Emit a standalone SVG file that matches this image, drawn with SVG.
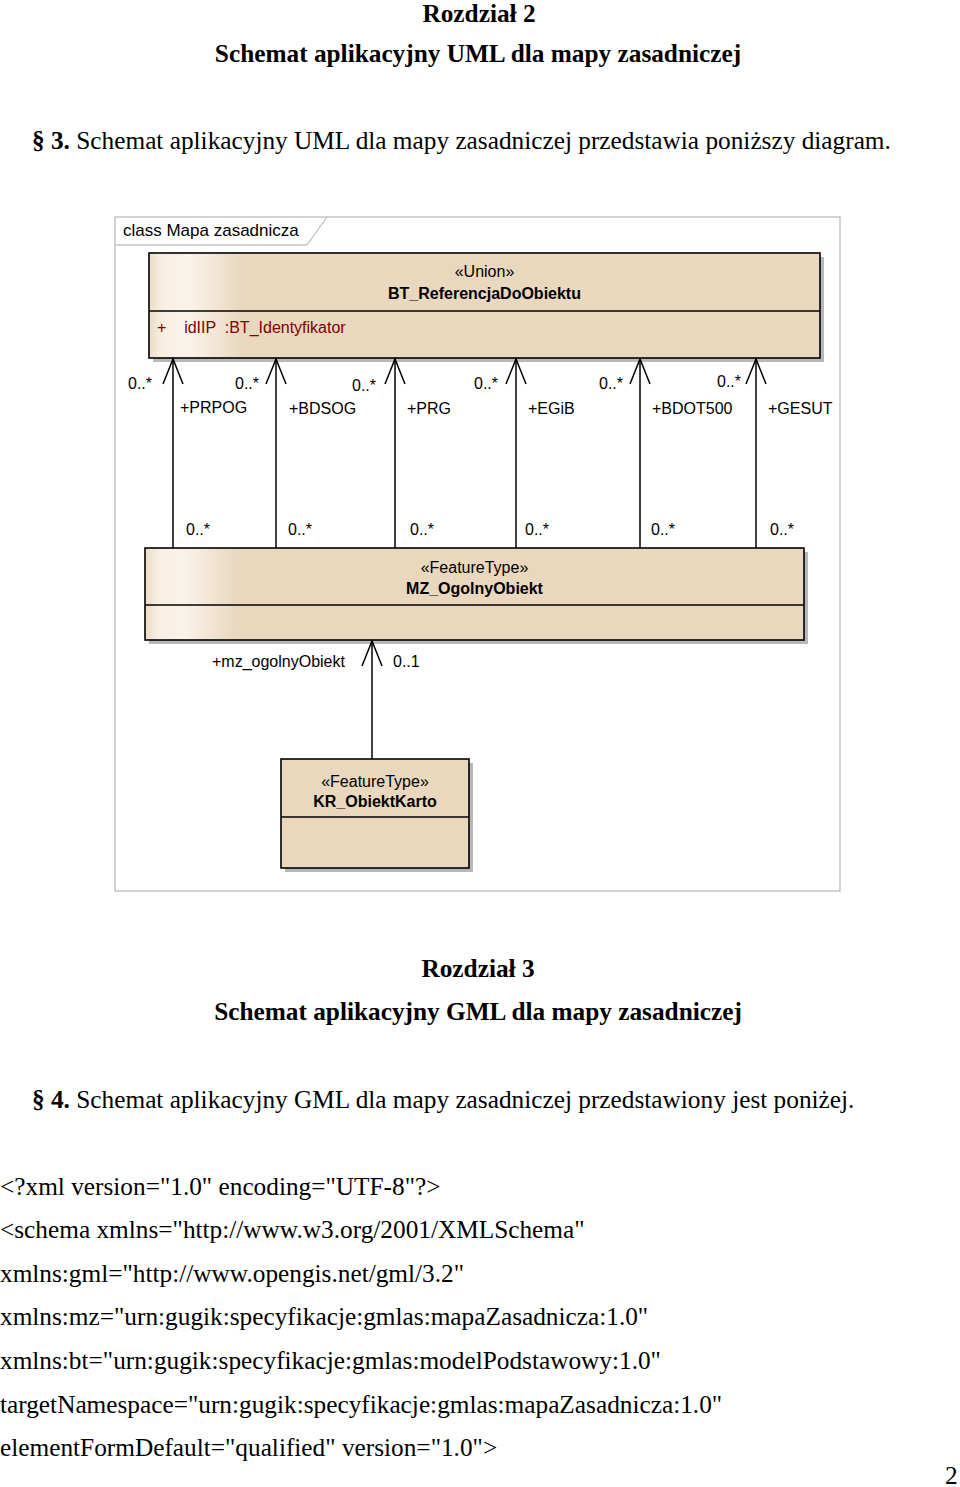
<svg xmlns="http://www.w3.org/2000/svg" width="960" height="1487" viewBox="0 0 960 1487">
<style>
.body{font-family:"Liberation Serif","Times New Roman",serif;font-size:25.3px;fill:#000}
.b{font-weight:bold}
.uml{font-family:"Liberation Sans",Arial,sans-serif;font-size:16px;fill:#000}
.ub{font-weight:bold}
.attr{fill:#7F0000}
.box{stroke:#000;stroke-width:1.6}
.shadow{fill:#9a9a9a;opacity:0.7}
.conn{stroke:#000;stroke-width:1.5;fill:none}
</style>
<defs>
<linearGradient id="grad" x1="0" y1="0" x2="1" y2="0">
<stop offset="0" stop-color="#EDDCC6"/>
<stop offset="0.02" stop-color="#F8EFE3"/>
<stop offset="0.06" stop-color="#FAF3EA"/>
<stop offset="0.14" stop-color="#E9D7BE"/>
<stop offset="1" stop-color="#E9D7BE"/>
</linearGradient>
<marker id="open" markerUnits="userSpaceOnUse" markerWidth="30" markerHeight="26" viewBox="-27 -13 29 26" refX="0" refY="0" orient="auto">
<path d="M-25,-10 L0,0 L-25,10" fill="none" stroke="#000" stroke-width="1.5"/>
</marker>
</defs>
<rect width="960" height="1487" fill="#fff"/>

<g id="text-header">
<text class="body b" x="479" y="22" text-anchor="middle">Rozdział 2</text>
<text class="body b" x="478" y="62" text-anchor="middle">Schemat aplikacyjny UML dla mapy zasadniczej</text>
<text class="body" x="32" y="149"><tspan class="b">§ 3.</tspan> Schemat aplikacyjny UML dla mapy zasadniczej przedstawia poniższy diagram.</text>
</g>

<g id="frame">
<rect x="115" y="217" width="725" height="674" fill="#fff" stroke="#A8A8A8" stroke-width="1"/>
<path d="M115,245 L307,245 L327,217" fill="none" stroke="#A8A8A8" stroke-width="1"/>
<text class="uml" x="123" y="236" style="font-size:17px">class Mapa zasadnicza</text>
</g>

<g id="BT_ReferencjaDoObiektu">
<rect class="shadow" x="153" y="257" width="671" height="105"/>
<rect class="box" x="149" y="253" width="671" height="105" fill="url(#grad)"/>
<line class="box" x1="149" y1="311" x2="820" y2="311"/>
<text class="uml" x="484.5" y="277" text-anchor="middle">«Union»</text>
<text class="uml ub" x="484.5" y="299" text-anchor="middle">BT_ReferencjaDoObiektu</text>
<text class="uml attr" x="157" y="333" xml:space="preserve">+    idIIP  :BT_Identyfikator</text>
</g>

<g id="MZ_OgolnyObiekt">
<rect class="shadow" x="149" y="552" width="659" height="92"/>
<rect class="box" x="145" y="548" width="659" height="92" fill="url(#grad)"/>
<line class="box" x1="145" y1="605" x2="804" y2="605"/>
<text class="uml" x="474.5" y="573" text-anchor="middle">«FeatureType»</text>
<text class="uml ub" x="474.5" y="594" text-anchor="middle">MZ_OgolnyObiekt</text>
</g>

<g id="KR_ObiektKarto">
<rect class="shadow" x="285" y="763" width="188" height="109"/>
<rect class="box" x="281" y="759" width="188" height="109" fill="#E9D7BE"/>
<line class="box" x1="281" y1="817" x2="469" y2="817"/>
<text class="uml" x="375" y="787" text-anchor="middle">«FeatureType»</text>
<text class="uml ub" x="375" y="807" text-anchor="middle">KR_ObiektKarto</text>
</g>

<g id="connectors">
<path class="conn" d="M173,548 L173,359" marker-end="url(#open)"/>
<path class="conn" d="M276,548 L276,359" marker-end="url(#open)"/>
<path class="conn" d="M395,548 L395,359" marker-end="url(#open)"/>
<path class="conn" d="M516,548 L516,359" marker-end="url(#open)"/>
<path class="conn" d="M640,548 L640,359" marker-end="url(#open)"/>
<path class="conn" d="M756,548 L756,359" marker-end="url(#open)"/>
<path class="conn" d="M372,759 L372,641" marker-end="url(#open)"/>
</g>

<g id="connector-labels">
<text class="uml" x="128" y="389">0..*</text>
<text class="uml" x="235" y="389">0..*</text>
<text class="uml" x="352" y="391">0..*</text>
<text class="uml" x="474" y="389">0..*</text>
<text class="uml" x="599" y="389">0..*</text>
<text class="uml" x="717" y="387">0..*</text>
<text class="uml" x="180" y="413">+PRPOG</text>
<text class="uml" x="289" y="414">+BDSOG</text>
<text class="uml" x="407" y="414">+PRG</text>
<text class="uml" x="528" y="414">+EGiB</text>
<text class="uml" x="652" y="414">+BDOT500</text>
<text class="uml" x="768" y="414">+GESUT</text>
<text class="uml" x="186" y="535">0..*</text>
<text class="uml" x="288" y="535">0..*</text>
<text class="uml" x="410" y="535">0..*</text>
<text class="uml" x="525" y="535">0..*</text>
<text class="uml" x="651" y="535">0..*</text>
<text class="uml" x="770" y="535">0..*</text>
<text class="uml" x="212" y="667">+mz_ogolnyObiekt</text>
<text class="uml" x="393" y="667">0..1</text>
</g>

<g id="text-body">
<text class="body b" x="478" y="977" text-anchor="middle">Rozdział 3</text>
<text class="body b" x="478" y="1020" text-anchor="middle">Schemat aplikacyjny GML dla mapy zasadniczej</text>
<text class="body" x="32" y="1108"><tspan class="b">§ 4.</tspan> Schemat aplikacyjny GML dla mapy zasadniczej przedstawiony jest poniżej.</text>
<text class="body" x="0" y="1195">&lt;?xml version="1.0" encoding="UTF-8"?&gt;</text>
<text class="body" x="0" y="1238">&lt;schema xmlns="http://www.w3.org/2001/XMLSchema"</text>
<text class="body" x="0" y="1282">xmlns:gml="http://www.opengis.net/gml/3.2"</text>
<text class="body" x="0" y="1325">xmlns:mz="urn:gugik:specyfikacje:gmlas:mapaZasadnicza:1.0"</text>
<text class="body" x="0" y="1369">xmlns:bt="urn:gugik:specyfikacje:gmlas:modelPodstawowy:1.0"</text>
<text class="body" x="0" y="1413">targetNamespace="urn:gugik:specyfikacje:gmlas:mapaZasadnicza:1.0"</text>
<text class="body" x="0" y="1456">elementFormDefault="qualified" version="1.0"&gt;</text>
<text class="body" x="945" y="1484">2</text>
</g>
</svg>
